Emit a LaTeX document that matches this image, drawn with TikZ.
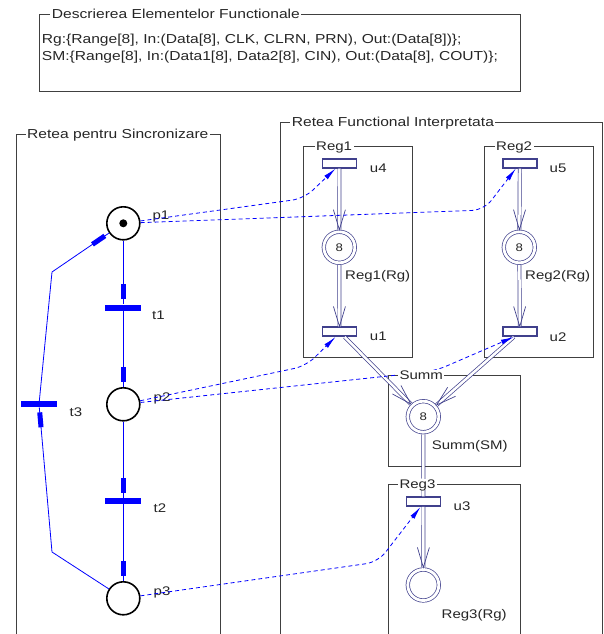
\documentclass[tikz,border=0pt]{standalone}
\usepackage{fontspec}
\setmainfont{Liberation Sans}[FakeStretch=1.2]
\usetikzlibrary{
  arrows.meta,
  decorations.markings
}
\definecolor{pnblue}{RGB}{0,0,255}
\definecolor{slate}{RGB}{64,64,140}
\definecolor{boxgray}{RGB}{64,64,64}

\begin{document}
\begin{tikzpicture}[
  x=1pt, y=-1pt,
  font=\fontsize{12.5}{15}\selectfont,
  text=black!85,
  %% ── frames and their titles ───────────────────────────────────────
  BOX/.style={rectangle, draw=boxgray, line width=1pt,
              anchor=north west, inner sep=0pt},
  TTL/.style={fill=white, anchor=west, inner xsep=1.5pt, inner ysep=0pt,
              text height=10pt, text depth=1pt},
  BIG/.style={font=\fontsize{13}{15}\selectfont},
  %% ── synchronisation net ───────────────────────────────────────────
  PL/.style ={circle, draw=black, line width=1.6pt,
              minimum size=33pt, inner sep=0pt},
  TOK/.style={circle, fill=black, minimum size=8pt, inner sep=0pt},
  TR/.style ={rectangle, fill=pnblue,
              minimum width=36pt, minimum height=6pt, inner sep=0pt},
  %% ── functional net ────────────────────────────────────────────────
  FP/.style ={circle, draw=slate, double=white, double distance=2.8pt,
              line width=0.7pt, minimum size=31pt, inner sep=0pt,
              outer sep=2.1pt, font=\fontsize{11}{13}\selectfont},
  FT/.style ={rectangle, draw=slate, line width=1.5pt, fill=white,
              minimum width=34pt, minimum height=9pt, inner sep=0pt},
  LBL/.style={inner sep=0pt},
  %% ── connectors ────────────────────────────────────────────────────
  arc/.style={pnblue, line width=0.8pt, postaction={decorate},
              decoration={markings, mark=at position -5pt with
                {\fill (-15pt,-2.5pt) rectangle (0pt,2.5pt);}}},
  dep/.style={-{Latex[length=13pt,width=5pt]}, pnblue, line width=0.8pt,
              dash pattern=on 4pt off 3pt, rounded corners=12pt},
  dbl/.style={slate, double=white, double distance=2.5pt, line width=0.7pt},
  vhd/.style={postaction={decorate},
              decoration={markings, mark=at position 1 with
                {\draw[slate, line width=0.7pt]
                   (-20pt,6pt) -- (0pt,0pt) -- (-20pt,-6pt);}}},
]

\useasboundingbox (0,0) rectangle (604,634);
\clip (0,0) rectangle (604,634);

%% ════════════════════════════════════════════════════════════════════
%% FRAMES  (top-left corners, y grows downwards)
%% ════════════════════════════════════════════════════════════════════
\node[BOX, minimum width=481pt, minimum height=77pt]    (bxdesc) at (39,14) {};
\node[BOX, minimum width=204pt, minimum height=540pt]   (bxsync) at (16,134) {};
\node[BOX, minimum width=322pt, minimum height=550pt]   (bxfunc) at (280,121.7) {};
\node[BOX, minimum width=109pt, minimum height=211.6pt] (bxreg1) at (303.3,145.7) {};
\node[BOX, minimum width=108.7pt, minimum height=211.6pt] (bxreg2) at (484,145.7) {};
\node[BOX, minimum width=132.3pt, minimum height=91pt]  (bxsumm) at (387.7,375) {};
\node[BOX, minimum width=132.3pt, minimum height=200pt] (bxreg3) at (387.7,484.3) {};

%% Element descriptions
\node[anchor=west, align=left, inner sep=0pt,
      font=\fontsize{13}{17}\selectfont] (spec) at (41.7,48.5)
  {Rg:\{Range[8], In:(Data[8], CLK, CLRN, PRN), Out:(Data[8])\};\\
   SM:\{Range[8], In:(Data1[8], Data2[8], CIN), Out:(Data[8], COUT)\};};

%% ════════════════════════════════════════════════════════════════════
%% SYNCHRONISATION NET  (column x=123.3)
%% ════════════════════════════════════════════════════════════════════
\node[PL]  (p1)  at (123.3,223.3) {};
\node[TOK] (tk1) at (p1) {};
\node[TR]  (t1)  at (123.3,307.5) {};
\node[PL]  (p2)  at (123.3,404.3) {};
\node[TR]  (t2)  at (123.3,501) {};
\node[PL]  (p3)  at (123.3,598.3) {};
\node[TR]  (t3)  at (39,404.2) {};

\node[LBL] (lp1) at (161,216) {p1};
\node[LBL] (lp2) at (162,398) {p2};
\node[LBL] (lp3) at (162,592) {p3};
\node[LBL] (lt1) at (158.5,315) {t1};
\node[LBL] (lt2) at (160,508) {t2};
\node[LBL] (lt3) at (76,412) {t3};

\foreach \a/\b in {p1/t1, t1/p2, p2/t2, t2/p3}
  \draw[arc] (\a) -- (\b);

%% Return loop through t3
\coordinate (k3) at (52,552);
\coordinate (k1) at (52,272);
\draw[arc] (p3) -- (k3) -- (t3);
\draw[arc] (t3) -- (k1) -- (p1);

%% ════════════════════════════════════════════════════════════════════
%% FUNCTIONAL NET
%% ════════════════════════════════════════════════════════════════════
\node[FT] (u4)  at (339.5,163.3) {};
\node[FP] (rg1) at (339.3,247.3) {8};
\node[FT] (u1)  at (339.5,331.7) {};

\node[FT] (u5)  at (519.8,163.3) {};
\node[FP] (rg2) at (519.3,247.3) {8};
\node[FT] (u2)  at (519.8,331.7) {};

\node[FP] (sm)  at (423.3,416.7) {8};
\node[FT] (u3)  at (423.5,501.7) {};
\node[FP] (rg3) at (423.3,585) {};

\node[LBL] (lu4)  at (378.3,168.3) {u4};
\node[LBL] (lu1)  at (378.3,336.7) {u1};
\node[LBL] (lu5)  at (558,168.3) {u5};
\node[LBL] (lu2)  at (558,336.7) {u2};
\node[LBL] (lu3)  at (462,506) {u3};
\node[LBL] (lrg1) at (377.7,276.7) {Reg1(Rg)};
\node[LBL] (lrg2) at (557.7,276.7) {Reg2(Rg)};
\node[LBL] (lsm)  at (469.7,446) {Summ(SM)};
\node[LBL] (lrg3) at (474.2,615) {Reg3(Rg)};

%% Double arcs with open heads
\foreach \a/\b in {u4/rg1, rg1/u1, u5/rg2, rg2/u2, u1/sm, u2/sm, u3/rg3} {
  \draw[dbl]  (\a) -- (\b);
  \path[vhd]  (\a) -- (\b);
}
\draw[dbl] (sm) -- (u3);

%% ── Control links: places -> functional transitions ─────────────────
\coordinate (d1) at (304,198.5);
\coordinate (d2) at (484,210);
\coordinate (d3) at (306,366);
\coordinate (d4) at (435,371);
\coordinate (d5) at (378,562);
\draw[dep] (p1) -- (d1) -- ([xshift=-4pt]u4.south);
\draw[dep] (p1) -- (d2) -- ([xshift=-4pt]u5.south);
\draw[dep] (p2) -- (d3) -- ([xshift=-4pt]u1.south);
\draw[dep] (p2) -- (d4) -- ([xshift=-6pt]u2.south);
\draw[dep] (p3) -- (d5) -- ([xshift=-3pt]u3.south);

%% ── Frame titles (on top, they break the frame line) ────────────────
\node[TTL, BIG] (tdesc) at ([xshift=11.2pt]bxdesc.north west) {Descrierea Elementelor Functionale};
\node[TTL, BIG] (tsync) at ([xshift=9.5pt]bxsync.north west)  {Retea pentru Sincronizare};
\node[TTL, BIG] (tfunc) at ([xshift=10.2pt]bxfunc.north west) {Retea Functional Interpretata};
\node[TTL] (treg1) at ([xshift=11.2pt]bxreg1.north west) {Reg1};
\node[TTL] (treg2) at ([xshift=10.5pt]bxreg2.north west) {Reg2};
\node[TTL] (tsumm) at ([xshift=10.1pt]bxsumm.north west) {Summ};
\node[TTL] (treg3) at ([xshift=10.1pt]bxreg3.north west) {Reg3};

\end{tikzpicture}
\end{document}
